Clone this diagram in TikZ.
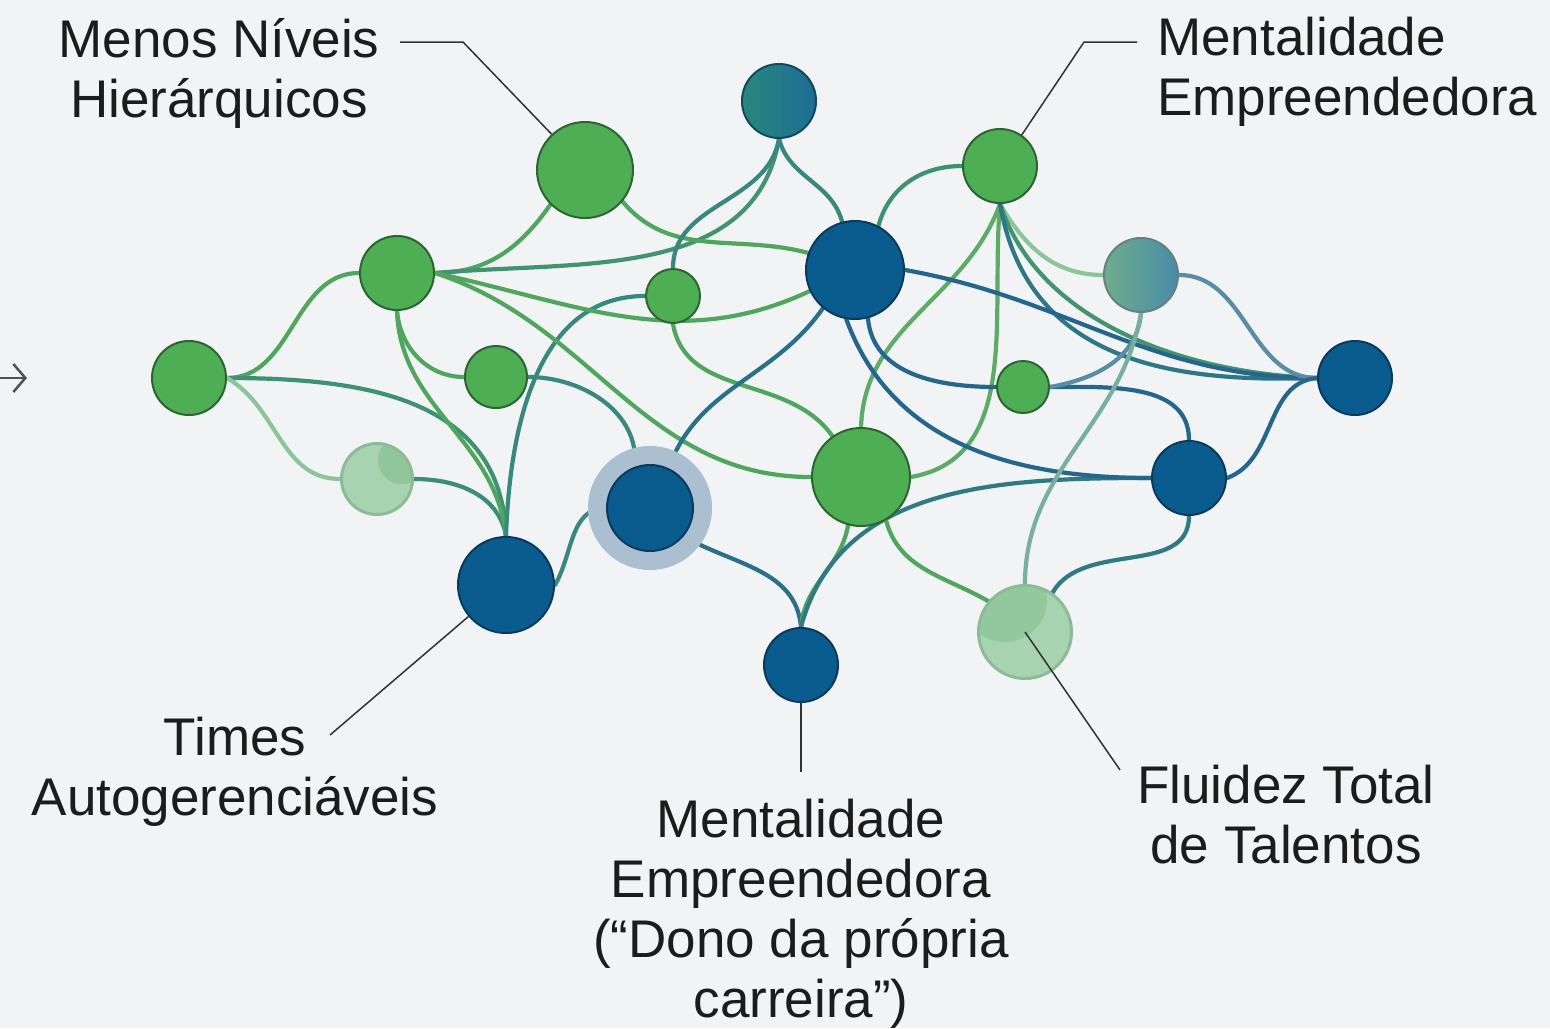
\documentclass[tikz,border=0pt]{standalone}
\usepackage{fontspec}
\setmainfont{Liberation Sans}
\usetikzlibrary{arrows.meta}
\definecolor{bgc}{RGB}{241,243,244}
\definecolor{gfill}{RGB}{78,174,84}
\definecolor{gline}{RGB}{44,100,52}
\definecolor{bfill}{RGB}{10,92,142}
\definecolor{bline}{RGB}{9,58,92}
\definecolor{fgfill}{RGB}{168,211,176}
\definecolor{fgline}{RGB}{140,188,150}
\definecolor{fgdark}{RGB}{128,190,140}
\definecolor{halo}{RGB}{170,192,208}
\definecolor{teal1}{RGB}{40,136,122}
\definecolor{teal2}{RGB}{30,108,150}
\definecolor{lt1}{RGB}{112,172,140}
\definecolor{lt2}{RGB}{72,140,168}
\definecolor{ltline}{RGB}{100,130,130}
\definecolor{eg}{RGB}{80,166,92}
\definecolor{egl}{RGB}{140,198,152}
\definecolor{et}{RGB}{56,136,126}
\definecolor{eb}{RGB}{36,102,140}
\definecolor{ebl}{RGB}{90,140,165}
\definecolor{txt}{RGB}{28,28,28}
\definecolor{lead}{RGB}{50,50,50}
\pgfdeclarelayer{bg}
\pgfdeclarelayer{edges}
\pgfsetlayers{bg,edges,main}
\begin{document}
\begin{tikzpicture}[x=1pt,y=-1pt,
  dot/.style={circle,inner sep=0pt,line width=2pt,minimum size=#1},
  gdot/.style={dot=#1,fill=gfill,draw=gline},
  bdot/.style={dot=#1,fill=bfill,draw=bline},
  fgdot/.style={dot=#1,fill=fgfill,draw=fgline},
  link/.style={line width=4.2pt,line cap=round},
  lbl/.style={text=txt,font=\fontsize{53}{60}\selectfont,inner sep=0pt},
  leader/.style={draw=lead,line width=1.5pt}
]
\begin{pgfonlayer}{bg}
\fill[bgc] (0,0) rectangle (1550,1028);
\end{pgfonlayer}
\useasboundingbox (0,0) rectangle (1550,1028);

% halo
\fill[halo] (650,508) circle (62);
% nodes
\node[gdot=74] (A) at (189,378) {};
\node[gdot=74] (B) at (397,273) {};
\node[gdot=96] (C) at (585,170) {};
\node[dot=74,left color=teal1,right color=teal2,draw=bline!80!teal1] (D) at (779,101) {};
\node[gdot=54] (E) at (673,296) {};
\node[gdot=62] (F) at (496,377) {};
\node[fgdot=72] (G) at (377,479) {};
\node[bdot=96] (H) at (506,585) {};
\node[bdot=86] (I) at (650,508) {};
\node[bdot=98] (J) at (855,270) {};
\node[gdot=74] (K) at (1000,166) {};
\node[dot=74,left color=lt1,right color=lt2,draw=ltline] (L) at (1141,275) {};
\node[gdot=52] (M) at (1023,387) {};
\node[bdot=74] (N) at (1355,378) {};
\node[bdot=74] (O) at (1189,478) {};
\node[gdot=98] (P) at (861,477) {};
\node[bdot=74] (Q) at (801,665) {};
\node[fgdot=94] (R) at (1025,632) {};
% shaded patches on faded nodes
\begin{scope}
\clip (377,479) circle (34);
\fill[fgdark,opacity=0.6] (402,460) circle (24);
\end{scope}
\draw[fgline,line width=2pt] (G) circle (35);
\begin{scope}
\clip (1025,632) circle (46);
\fill[fgdark,opacity=0.5] (1005,600) circle (42);
\end{scope}
\draw[fgline,line width=2pt] (R) circle (46);

\begin{pgfonlayer}{edges}
% left cluster
\draw[link,eg] (A.east) to[out=0,in=180] (B.west);
\draw[link,et!70!eg] (A.east) to[out=0,in=92,looseness=1.1] (H.north);
\draw[link,egl] (A.east) to[out=-30,in=180] (G.west);
\draw[link,et!80!eg] (G.east) to[out=0,in=100] (H.north);
\draw[link,eg] (B.south) to[out=-88,in=96] (H.north);
\draw[link,eg] (B.south) to[out=-85,in=180] (F.west);
\draw[link,et] (F.east) to[out=0,in=85] (I.110);
\draw[link,et] (E.west) to[out=180,in=88] (H.north);
\draw[link,eg] (B.east) to[out=0,in=235] (C.225);
\draw[link,et!60!eg] (B.east) to[out=5,in=-100] (D.south);
\draw[link,eg] (B.east) to[out=-12,in=205] (J.205);
\draw[link,eg] (B.east) to[out=-18,in=180] (P.west);
\draw[link,eg] (C.-40) to[out=-50,in=165] (J.160);
\draw[link,et] (D.south) to[out=-100,in=90] (E.north);
\draw[link,et] (D.south) to[out=-75,in=105] (J.105);
\draw[link,eg] (E.south) to[out=-80,in=125] (P.125);
\draw[link,eb!70!et] (J.230) to[out=-125,in=70] (I.65);
\draw[link,et] (H.east) to[out=60,in=180] (I.west);
\draw[link,eb!70!et] (I.-40) to[out=-30,in=95] (Q.north);
\draw[link,eg] (P.-105) to[out=-100,in=85] (Q.north);
\draw[link,et!60!eb] (Q.north) to[out=75,in=180] (O.west);
\draw[link,eg] (P.-60) to[out=-75,in=150] (R.140);
% right cluster
\draw[link,et!70!eg] (K.west) to[out=180,in=75] (J.62);
\draw[link,eg!80!egl] (K.south) to[out=-110,in=88] (P.north);
\draw[link,eg!80!egl] (K.south) to[out=-95,in=10] (P.east);
\draw[link,egl] (K.south) to[out=-60,in=180] (L.west);
\draw[link,et!60!eg] (K.south) to[out=-72,in=178,looseness=0.9] (N.west);
\draw[link,et!50!eb] (K.south) to[out=-80,in=182,looseness=1.1] (N.west);
\draw[link,eb] (J.east) to[out=-10,in=180] (N.west);
\draw[link,eb] (J.-75) to[out=-85,in=180] (M.west);
\draw[link,eb] (J.-100) to[out=-70,in=180] (O.west);
\draw[link,eb] (M.east) to[out=0,in=90] (O.north);
\draw[link,ebl] (M.east) to[out=10,in=-95] (L.south);
\draw[link,egl!60!ebl] (L.south) to[out=-100,in=90] (R.north);
\draw[link,ebl] (L.east) to[out=0,in=180] (N.west);
\draw[link,eb] (O.east) to[out=20,in=185] (N.west);
\draw[link,et!60!eb] (O.south) to[out=-90,in=60] (R.55);
\end{pgfonlayer}

% left arrow
\coordinate (arrS) at (0,378);
\coordinate (arrE) at (27,378);
\draw[draw=lead!85,line width=2.5pt,-{Straight Barb[length=12pt,width=28pt]}] (arrS) -- (arrE);

% labels
\node[lbl,align=center] (t1) at (219,73) {Menos Níveis\\Hierárquicos};
\node[lbl,align=left,anchor=west] (t2) at (1157,72) {Mentalidade\\Empreendedora};
\node[lbl,align=center] (t3) at (235,772) {Times\\Autogerenciáveis};
\node[lbl,align=center] (t4) at (801,914) {Mentalidade\\Empreendedora\\(“Dono da própria\\carreira”)};
\node[lbl,align=center] (t5) at (1286,815) {Fluidez Total\\de Talentos};

% leaders
\coordinate (l1a) at (400,42);
\coordinate (l1b) at (463,42);
\draw[leader] (l1a) -- (l1b) -- (C.133);
\coordinate (l2a) at (1137,42);
\coordinate (l2b) at (1084,42);
\draw[leader] (l2a) -- (l2b) -- (K.55);
\coordinate (l3a) at (330,735);
\draw[leader] (l3a) -- (H.-140);
\coordinate (l4a) at (801,772);
\draw[leader] (Q.south) -- (l4a);
\coordinate (l5a) at (1120,770);
\draw[leader] (R.center) -- (l5a);
\end{tikzpicture}
\end{document}
